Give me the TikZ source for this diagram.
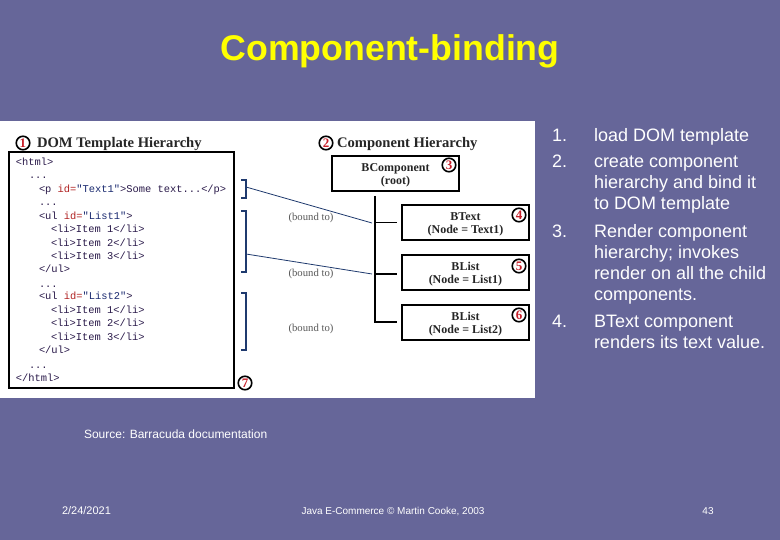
\documentclass[tikz,border=0pt]{standalone}
\usepackage{fontspec}
\setmainfont{Liberation Sans}
\newfontfamily\codefont{Liberation Mono}
\newfontfamily\headfont{Liberation Serif}
\definecolor{slide}{HTML}{666699}
\definecolor{titley}{HTML}{FFFF00}
\definecolor{navy}{HTML}{1F3A6E}
\definecolor{tagc}{HTML}{2A1A4A}
\definecolor{attrc}{HTML}{B02020}
\definecolor{valc}{HTML}{1A2A70}
\definecolor{badge}{HTML}{C8202A}
\newcommand{\at}[1]{\textcolor{attrc}{#1}}
\newcommand{\vl}[1]{\textcolor{valc}{#1}}
\newcommand{\boxstrut}{\rule{0pt}{12.5pt}}
\tikzset{
  x=1pt,y=-1pt,
  every node/.style={inner sep=0pt,outer sep=0pt},
  slidetext/.style={anchor=base west,font=\fontsize{18}{21}\selectfont,text=white},
  foot/.style={anchor=base,font=\fontsize{10}{12}\selectfont,text=white},
  code/.style={anchor=base west,font=\codefont\fontsize{10.4}{12}\selectfont,text=tagc},
  head/.style={anchor=base west,font=\headfont\bfseries\fontsize{14.6}{16}\selectfont,text=black!85},
  compbox/.style={draw=black,line width=2pt,fill=white,align=center,font=\headfont\bfseries\fontsize{12}{13}\selectfont,text=black!85,anchor=north west},
  boundlabel/.style={font=\headfont\fontsize{10.7}{12}\selectfont,text=black!65},
  badgec/.style={circle,draw=black,line width=1.6pt,fill=white,minimum size=13.5pt,text=badge,font=\headfont\bfseries\fontsize{13}{13}\selectfont},
  tree/.style={draw=black,line width=1.6pt},
  bracket/.style={draw=navy,line width=1.5pt},
  boundline/.style={draw=navy,line width=0.8pt},
}
\begin{document}
\begin{tikzpicture}
\useasboundingbox (0,0) rectangle (780,540);
\fill[slide] (0,0) rectangle (780,540);
\fill[white] (0,121) rectangle (535,398);
\node[font=\bfseries\fontsize{35.7}{40}\selectfont,text=titley] (title) at (390,51) {Component-binding};
% left
\node[badgec] (b1) at (23,143) {1};
\node[head] (h1) at (37,147.5) {DOM Template Hierarchy};
\node[draw=black,line width=2pt,fill=white,anchor=north west,minimum width=225pt,minimum height=236pt] (dom) at (9,152) {};
\node[code] (c1) at (16,165.5) {<html>};
\node[code] (c2) at (29,178.5) {...};
\node[code] (c3) at (39,192.5) {<p \at{id=}\vl{"Text1"}>Some text...</p>};
\node[code] (c4) at (39,205.5) {...};
\node[code] (c5) at (39,219.5) {<ul \at{id=}\vl{"List1"}>};
\node[code] (c6) at (51,232.5) {<li>Item 1</li>};
\node[code] (c7) at (51,246.5) {<li>Item 2</li>};
\node[code] (c8) at (51,259.5) {<li>Item 3</li>};
\node[code] (c9) at (39,272.5) {</ul>};
\node[code] (c10) at (39,288) {...};
\node[code] (c11) at (39,299.5) {<ul \at{id=}\vl{"List2"}>};
\node[code] (c12) at (51,313.5) {<li>Item 1</li>};
\node[code] (c13) at (51,326.5) {<li>Item 2</li>};
\node[code] (c14) at (51,340.5) {<li>Item 3</li>};
\node[code] (c15) at (39,353.5) {</ul>};
\node[code] (c16) at (29,369) {...};
\node[code] (c17) at (16,381.5) {</html>};
\node[badgec] (b7) at (245,383) {7};
% right
\node[badgec] (b2) at (326,143) {2};
\node[head] (h2) at (337,147.5) {Component Hierarchy};
\node[compbox,minimum width=127pt,minimum height=35pt] (root) at (332,156) {\boxstrut BComponent\\(root)};
\node[compbox,minimum width=127pt,minimum height=35pt] (n1) at (402,205) {\boxstrut BText\\(Node = Text1)};
\node[compbox,minimum width=127pt,minimum height=35pt] (n2) at (402,255) {\boxstrut BList\\(Node = List1)};
\node[compbox,minimum width=127pt,minimum height=35pt] (n3) at (402,305) {\boxstrut BList\\(Node = List2)};
\node[badgec] (b3) at (449,165) {3};
\node[badgec] (b4) at (519,215) {4};
\node[badgec] (b5) at (519,266) {5};
\node[badgec] (b6) at (519,315) {6};
\coordinate (ttop) at (375,196);
\coordinate (tbot) at (375,322);
\coordinate (j1) at (375,223);
\coordinate (j2) at (375,274);
\coordinate (e1) at (397,223);
\coordinate (e2) at (397,274);
\coordinate (e3) at (397,322);
\draw[tree] (ttop) -- (tbot) -- (e3);
\draw[tree,line width=1pt] (j1) -- (e1);
\draw[tree] (j2) -- (e2);
% brackets
\coordinate (k1a) at (241,180); \coordinate (k1b) at (246,180); \coordinate (k1c) at (246,198); \coordinate (k1d) at (241,198);
\coordinate (k2a) at (241,211); \coordinate (k2b) at (246,211); \coordinate (k2c) at (246,272); \coordinate (k2d) at (241,272);
\coordinate (k3a) at (241,293); \coordinate (k3b) at (246,293); \coordinate (k3c) at (246,350); \coordinate (k3d) at (241,350);
\draw[bracket] (k1a) -- (k1b) -- (k1c) -- (k1d);
\draw[bracket] (k2a) -- (k2b) -- (k2c) -- (k2d);
\draw[bracket] (k3a) -- (k3b) -- (k3c) -- (k3d);
\coordinate (s1) at (246,187); \coordinate (s2) at (246,254);
\coordinate (t1) at (372,223); \coordinate (t2) at (372,274);
\draw[boundline] (s1) -- (t1);
\draw[boundline] (s2) -- (t2);
\node[boundlabel] (l1) at (311,217.5) {(bound to)};
\node[boundlabel] (l2) at (311,273.5) {(bound to)};
\node[boundlabel] (l3) at (311,328.5) {(bound to)};
% list
\node[slidetext] (n1t) at (552,141.5) {1.};
\node[slidetext] (n2t) at (552,167.5) {2.};
\node[slidetext] (n3t) at (552,237.5) {3.};
\node[slidetext] (n4t) at (552,327.5) {4.};
\node[slidetext] (t1a) at (594,141.5) {load DOM template};
\node[slidetext] (t2a) at (594,167.5) {create component};
\node[slidetext] (t2b) at (594,188.5) {hierarchy and bind it};
\node[slidetext] (t2c) at (594,209.5) {to DOM template};
\node[slidetext] (t3a) at (594,237.5) {Render component};
\node[slidetext] (t3b) at (594,258.5) {hierarchy; invokes};
\node[slidetext] (t3c) at (594,279.5) {render on all the child};
\node[slidetext] (t3d) at (594,300.5) {components.};
\node[slidetext] (t4a) at (594,327.5) {BText component};
\node[slidetext] (t4b) at (594,348.5) {renders its text value.};
% footer
\node[anchor=base west,font=\fontsize{12}{14}\selectfont,text=white] (src) at (84,438) {Source: Barracuda documentation};
\node[foot,font=\fontsize{11}{12}\selectfont] (f1) at (86.5,514) {2/24/2021};
\node[foot] (f2) at (393,514) {Java E-Commerce © Martin Cooke, 2003};
\node[foot] (f3) at (708,514) {43};
\end{tikzpicture}
\end{document}
